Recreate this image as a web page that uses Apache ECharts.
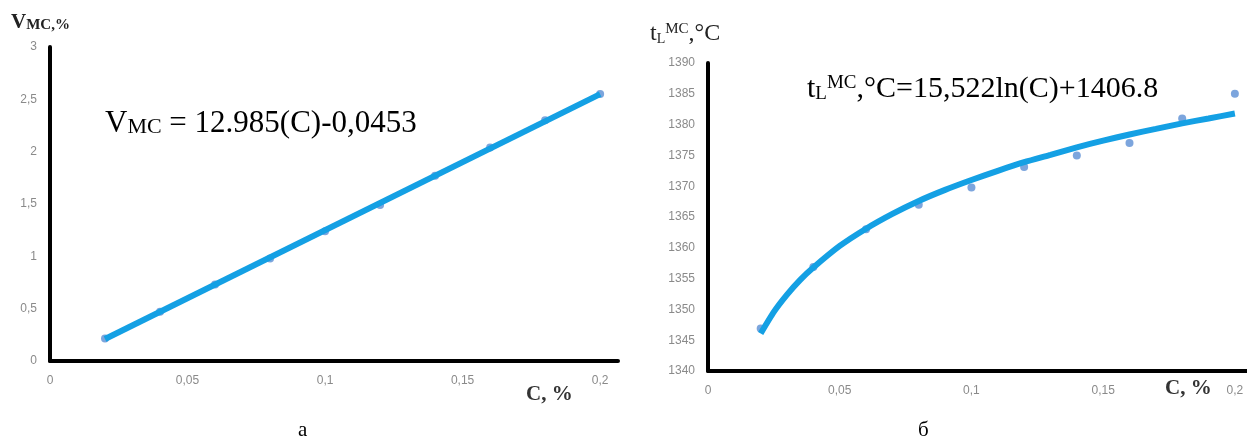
<!DOCTYPE html>
<html>
<head>
<meta charset="utf-8">
<script src="https://cdn.jsdelivr.net/npm/echarts@6/dist/echarts.min.js"></script>
<style>
    html, body { margin: 0; padding: 0; background: #fff; }
    #chart { width: 1247px; height: 445px; }
</style>
</head>
<body>
<div id="chart"></div>
<script>
// concentration C, %
let conc = [0.02, 0.04, 0.06, 0.08, 0.1, 0.12, 0.14, 0.16, 0.18, 0.2];
// chart a: V_MC, %
let vmc_points = [0.215, 0.47, 0.73, 0.98, 1.24, 1.49, 1.77, 2.04, 2.30, 2.55];
let vmc_trend_x = [0.02, 0.2];
let vmc_trend_y = [0.21, 2.55];
// chart b: t_L^MC, °C
let tl_points = [1346.9, 1356.9, 1363.0, 1367.0, 1369.8, 1373.1, 1375.0, 1377.0, 1381.0, 1385.0];
let tl_trend_x = [0.02, 0.025, 0.03, 0.035, 0.04, 0.05, 0.06, 0.07, 0.08, 0.09, 0.1, 0.11,
    0.12, 0.13, 0.14, 0.15, 0.16, 0.17, 0.18, 0.19, 0.2];
let tl_trend_y = [1346.1, 1349.6, 1352.4, 1354.8, 1356.8, 1360.3, 1363.1, 1365.5, 1367.6, 1369.4, 1371.0, 1372.5,
    1373.9, 1375.1, 1376.3, 1377.4, 1378.4, 1379.3, 1380.2, 1381.0, 1381.8];

let zip = function (xs, ys) {
    return xs.map(function (x, i) { return [x, ys[i]]; });
};
let comma = function (v) {
    return String(+v.toFixed(4)).replace('.', ',');
};

let serif = '"Liberation Serif", "DejaVu Serif", serif';
let line_color = '#14a0e4';
let point_color = '#5b8fd4';

let x_axis = function (idx, max) {
    return {
        gridIndex: idx, type: 'value', min: 0, max: max, interval: 0.05,
        axisLine: { show: true, lineStyle: { color: '#000', width: 4 } },
        axisTick: { show: false },
        splitLine: { show: false },
        axisLabel: {
            margin: 14, showMaxLabel: false, color: '#8a8a8a', fontSize: 12,
            fontFamily: '"Liberation Sans", sans-serif', formatter: comma
        }
    };
};
let y_axis = function (idx, min, max, interval) {
    return {
        gridIndex: idx, type: 'value', min: min, max: max, interval: interval,
        axisLine: { show: true, lineStyle: { color: '#000', width: 4 } },
        axisTick: { show: false },
        splitLine: { show: false },
        axisLabel: {
            margin: 13, color: '#8a8a8a', fontSize: 12,
            fontFamily: '"Liberation Sans", sans-serif', formatter: comma
        }
    };
};

let chart = echarts.init(document.getElementById('chart'));
let option = {
    backgroundColor: '#fff',
    animation: false,
    grid: [
        { left: 50, top: 47, width: 568, height: 314 },
        { left: 708, top: 63, width: 539, height: 308 }
    ],
    xAxis: [x_axis(0, 0.2065), x_axis(1, 0.2046)],
    yAxis: [y_axis(0, 0, 3, 0.5), y_axis(1, 1340, 1390, 5)],
    series: [
        {
            type: 'scatter', xAxisIndex: 0, yAxisIndex: 0, z: 2,
            symbolSize: 8, itemStyle: { color: point_color },
            data: zip(conc, vmc_points)
        },
        {
            type: 'line', xAxisIndex: 0, yAxisIndex: 0, z: 3,
            showSymbol: false, lineStyle: { color: line_color, width: 6 },
            data: zip(vmc_trend_x, vmc_trend_y)
        },
        {
            type: 'scatter', xAxisIndex: 1, yAxisIndex: 1, z: 2,
            symbolSize: 8, itemStyle: { color: point_color },
            data: zip(conc, tl_points)
        },
        {
            type: 'line', xAxisIndex: 1, yAxisIndex: 1, z: 3,
            showSymbol: false, smooth: 0.2,
            lineStyle: { color: line_color, width: 6 },
            data: zip(tl_trend_x, tl_trend_y)
        }
    ],
    graphic: [
        // axis titles
        {
            type: 'text', left: 11, top: 12,
            style: {
                text: '{a|V}{b|MC,%}', fill: '#222',
                rich: {
                    a: { fontFamily: serif, fontSize: 21, fontWeight: 'bold', verticalAlign: 'bottom' },
                    b: { fontFamily: serif, fontSize: 15, fontWeight: 'bold', verticalAlign: 'bottom' }
                }
            }
        },
        {
            type: 'text', left: 650, top: 22,
            style: {
                text: '{a|t}{s|L}{p|MC}{a|,°C}', fill: '#222',
                rich: {
                    a: { fontFamily: serif, fontSize: 24, verticalAlign: 'bottom' },
                    s: { fontFamily: serif, fontSize: 14, verticalAlign: 'bottom' },
                    p: { fontFamily: serif, fontSize: 15, verticalAlign: 'top' }
                }
            }
        },
        {
            type: 'text', left: 526, top: 384,
            style: { text: 'C, %', fill: '#333', font: 'bold 21px ' + serif }
        },
        {
            type: 'text', left: 1165, top: 378,
            style: { text: 'C, %', fill: '#333', font: 'bold 21px ' + serif }
        },
        // trend equations
        {
            type: 'text', left: 105, top: 108,
            style: {
                text: '{a|V}{s|MC}{a| = 12.985(C)-0,0453}', fill: '#000',
                rich: {
                    a: { fontFamily: serif, fontSize: 31, verticalAlign: 'bottom' },
                    s: { fontFamily: serif, fontSize: 22, verticalAlign: 'bottom', padding: [0, 0, 1, 0] }
                }
            }
        },
        {
            type: 'text', left: 807, top: 74,
            style: {
                text: '{a|t}{s|L}{p|MC}{a|,°C=15,522ln(C)+1406.8}', fill: '#000',
                rich: {
                    a: { fontFamily: serif, fontSize: 30, verticalAlign: 'bottom' },
                    s: { fontFamily: serif, fontSize: 19, verticalAlign: 'bottom' },
                    p: { fontFamily: serif, fontSize: 19, verticalAlign: 'top' }
                }
            }
        },
        // panel captions
        {
            type: 'text', left: 298, top: 420,
            style: { text: 'а', fill: '#000', font: '21px ' + serif }
        },
        {
            type: 'text', left: 918, top: 420,
            style: { text: 'б', fill: '#000', font: '21px ' + serif }
        }
    ]
};
chart.setOption(option, true);
</script>
</body>
</html>
